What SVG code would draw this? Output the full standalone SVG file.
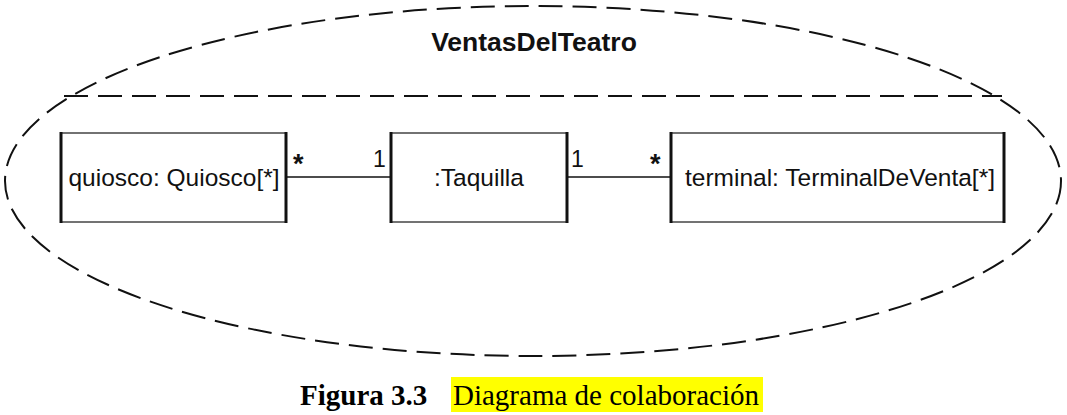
<svg xmlns="http://www.w3.org/2000/svg" width="1067" height="415" viewBox="0 0 1067 415">
<style>
.dash{fill:none;stroke:#111;stroke-width:2;stroke-dasharray:24 10}
.box{fill:#fff;stroke:#444;stroke-width:1.5}
.side{stroke:#111;stroke-width:3}
.lbl{font-family:"Liberation Sans",Arial,sans-serif;font-size:24.5px;fill:#111}
.mult{font-family:"Liberation Sans",Arial,sans-serif;font-size:23px;fill:#111}
.star{font-family:"Liberation Sans",Arial,sans-serif;font-size:27px;font-weight:bold;fill:#111}
.conn{stroke:#111;stroke-width:1.3}
</style>
<rect width="1067" height="415" fill="#fff"/>
<g id="container">
<ellipse class="dash" cx="533" cy="181" rx="528" ry="175"/>
<line class="dash" x1="64" y1="96" x2="1002" y2="96"/>
<text x="534" y="51" text-anchor="middle" style="font-family:'Liberation Sans',Arial,sans-serif;font-size:26.5px;font-weight:bold;fill:#111">VentasDelTeatro</text>
</g>
<g id="connectors">
<line class="conn" x1="287" y1="177" x2="390" y2="177"/>
<line class="conn" x1="567" y1="177" x2="670" y2="177"/>
<text class="star" x="293" y="173">*</text>
<text class="mult" x="373" y="167">1</text>
<text class="mult" x="571" y="167">1</text>
<text class="star" x="650" y="173">*</text>
</g>
<g id="quiosco">
<rect class="box" x="61" y="133" width="225" height="89"/>
<line class="side" x1="61" y1="132" x2="61" y2="223"/>
<line class="side" x1="286" y1="132" x2="286" y2="223"/>
<text class="lbl" x="174" y="186" text-anchor="middle">quiosco: Quiosco[*]</text>
</g>
<g id="taquilla">
<rect class="box" x="391" y="133" width="176" height="89"/>
<line class="side" x1="391" y1="132" x2="391" y2="223"/>
<line class="side" x1="567" y1="132" x2="567" y2="223"/>
<text class="lbl" x="479" y="186" text-anchor="middle">:Taquilla</text>
</g>
<g id="terminal">
<rect class="box" x="671" y="133" width="333" height="89"/>
<line class="side" x1="671" y1="132" x2="671" y2="223"/>
<line class="side" x1="1004" y1="132" x2="1004" y2="223"/>
<text class="lbl" x="840" y="186" text-anchor="middle">terminal: TerminalDeVenta[*]</text>
</g>
<g id="caption">
<rect x="451" y="377" width="312" height="35" fill="#ffff00"/>
<text x="300" y="405" style="font-family:'Liberation Serif','Times New Roman',serif;font-size:29px;font-weight:bold;fill:#000">Figura 3.3</text>
<text x="453" y="405" style="font-family:'Liberation Serif','Times New Roman',serif;font-size:29px;fill:#000">Diagrama de colaboración</text>
</g>
</svg>
